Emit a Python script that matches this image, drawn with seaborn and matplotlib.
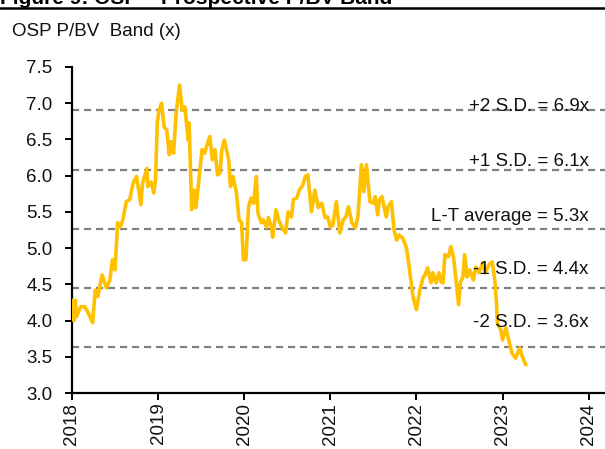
import matplotlib
matplotlib.use("Agg")
import matplotlib.pyplot as plt
import seaborn as sns
import pandas as pd
from matplotlib.lines import Line2D

# ---- data (decimal year, P/BV multiple) ----
years = [2018.00, 2018.01, 2018.02, 2018.04, 2018.05, 2018.10, 2018.15, 2018.19, 2018.24, 2018.27,
         2018.30, 2018.35, 2018.40, 2018.44, 2018.47, 2018.50, 2018.53, 2018.56, 2018.59, 2018.63,
         2018.67, 2018.71, 2018.75, 2018.80, 2018.82, 2018.87, 2018.88, 2018.92, 2018.95, 2018.97,
         2018.99, 2019.01, 2019.04, 2019.07, 2019.10, 2019.13, 2019.15, 2019.18, 2019.21, 2019.25,
         2019.28, 2019.31, 2019.35, 2019.36, 2019.39, 2019.42, 2019.44, 2019.47, 2019.51, 2019.54,
         2019.57, 2019.60, 2019.63, 2019.66, 2019.69, 2019.72, 2019.74, 2019.77, 2019.82, 2019.84,
         2019.87, 2019.91, 2019.94, 2019.97, 2019.99, 2020.02, 2020.05, 2020.08, 2020.11, 2020.14,
         2020.16, 2020.20, 2020.22, 2020.26, 2020.28, 2020.32, 2020.33, 2020.37, 2020.40, 2020.44,
         2020.48, 2020.51, 2020.55, 2020.57, 2020.61, 2020.64, 2020.68, 2020.71, 2020.74, 2020.78,
         2020.82, 2020.86, 2020.90, 2020.94, 2020.97, 2021.00, 2021.03, 2021.07, 2021.11, 2021.15,
         2021.18, 2021.21, 2021.25, 2021.29, 2021.32, 2021.34, 2021.36, 2021.39, 2021.42, 2021.46,
         2021.50, 2021.52, 2021.55, 2021.57, 2021.60, 2021.65, 2021.67, 2021.71, 2021.74, 2021.77,
         2021.80, 2021.84, 2021.88, 2021.90, 2021.92, 2021.96, 2022.00, 2022.04, 2022.08, 2022.10,
         2022.13, 2022.17, 2022.19, 2022.23, 2022.26, 2022.29, 2022.31, 2022.33, 2022.37, 2022.40,
         2022.43, 2022.46, 2022.49, 2022.51, 2022.54, 2022.56, 2022.59, 2022.62, 2022.66, 2022.69,
         2022.73, 2022.77, 2022.80, 2022.84, 2022.88, 2022.91, 2022.93, 2022.94, 2022.98, 2023.00,
         2023.04, 2023.08, 2023.11, 2023.15, 2023.20, 2023.23, 2023.27]
pbv = [4.20, 4.28, 4.00, 4.28, 4.05, 4.19, 4.19, 4.10, 3.97, 4.42,
       4.33, 4.63, 4.45, 4.56, 4.84, 4.70, 5.35, 5.29, 5.39, 5.64,
       5.67, 5.90, 5.99, 5.60, 5.90, 6.10, 5.85, 5.91, 5.76, 5.94,
       6.73, 6.90, 7.00, 6.67, 6.63, 6.29, 6.47, 6.31, 6.87, 7.25,
       6.90, 6.95, 6.49, 6.73, 5.53, 5.80, 5.56, 5.90, 6.36, 6.31,
       6.43, 6.54, 6.22, 6.36, 6.01, 6.04, 6.36, 6.49, 6.22, 5.85,
       5.99, 5.76, 5.39, 5.35, 4.84, 4.84, 5.57, 5.69, 5.62, 5.99,
       5.48, 5.35, 5.39, 5.29, 5.42, 5.28, 5.15, 5.53, 5.39, 5.28,
       5.21, 5.50, 5.43, 5.67, 5.69, 5.80, 5.87, 5.99, 6.01, 5.50,
       5.80, 5.56, 5.62, 5.42, 5.43, 5.29, 5.32, 5.64, 5.21, 5.39,
       5.43, 5.57, 5.35, 5.28, 5.43, 5.76, 6.15, 5.78, 6.15, 5.64,
       5.62, 5.71, 5.46, 5.67, 5.71, 5.43, 5.57, 5.64, 5.25, 5.11,
       5.18, 5.14, 5.02, 4.88, 4.70, 4.33, 4.15, 4.42, 4.60, 4.63,
       4.73, 4.52, 4.66, 4.52, 4.66, 4.53, 4.52, 4.91, 4.88, 5.02,
       4.88, 4.56, 4.22, 4.53, 4.60, 4.91, 4.60, 4.70, 4.56, 4.74,
       4.66, 4.80, 4.66, 4.77, 4.81, 4.56, 4.24, 3.97, 3.87, 3.73,
       3.90, 3.69, 3.55, 3.48, 3.62, 3.50, 3.39]

band_values = [6.90, 6.08, 5.27, 4.45, 3.635]
band_labels = ["+2 S.D. = 6.9x", "+1 S.D. = 6.1x", "L-T average = 5.3x",
               "-1 S.D. = 4.4x", "-2 S.D. = 3.6x"]
label_y = [6.95, 6.19, 5.44, 4.71, 3.97]
x_ticks = [2018, 2019, 2020, 2021, 2022, 2023, 2024]
y_ticks = [3.0, 3.5, 4.0, 4.5, 5.0, 5.5, 6.0, 6.5, 7.0, 7.5]

sns.set_theme(style="white")
plt.rcParams["font.family"] = ["Liberation Sans", "DejaVu Sans"]

FS = 13.5
fig = plt.figure(figsize=(6.05, 4.49), dpi=100)
ax = fig.add_axes([0.119, 0.1247, 0.881, 0.7261])

df = pd.DataFrame({"year": years, "pbv": pbv})
for v in band_values:
    ax.axhline(v, color="#808080", lw=1.6, ls=(0, (3.2, 2.2)), zorder=1)
sns.lineplot(data=df, x="year", y="pbv", ax=ax, color="#FFC000", lw=2.6,
             zorder=3, estimator=None)

for txt, yv in zip(band_labels, label_y):
    ax.text(2024.0, yv, txt, ha="right", va="center", fontsize=FS, color="#111111",
            zorder=4)

ax.set_xlim(2018, 2024.19)
ax.set_ylim(3.0, 7.5)
ax.set_xticks(x_ticks)
ax.set_xticklabels([str(t) for t in x_ticks], rotation=90, fontsize=FS)
ax.set_yticks(y_ticks)
ax.set_yticklabels([f"{t:.1f}" for t in y_ticks], fontsize=FS)
ax.set_xlabel("")
ax.set_ylabel("")
for s in ["top", "right"]:
    ax.spines[s].set_visible(False)
for s in ["left", "bottom"]:
    ax.spines[s].set_color("black")
    ax.spines[s].set_linewidth(1.6)
ax.tick_params(axis="both", which="major", direction="out", length=5, width=1.4,
               color="black", labelcolor="#111111", left=True, bottom=True)
ax.tick_params(axis="y", pad=9)
ax.tick_params(axis="x", pad=2)

# title strip (cut off at top) and rule
fig.text(0.0, 1 - 4 / 449, "Figure 9: OSP \u2013 Prospective P/BV Band", fontsize=15,
         fontweight="bold", ha="left", va="baseline", color="black")
fig.add_artist(Line2D([0, 1], [1 - 7.5 / 449, 1 - 7.5 / 449], color="black", lw=1.8,
                      transform=fig.transFigure))
fig.text(12 / 605, 1 - 32 / 449, "OSP P/BV  Band (x)", fontsize=FS, ha="left",
         va="center", color="#111111")

fig.savefig("out.png", dpi=100)
